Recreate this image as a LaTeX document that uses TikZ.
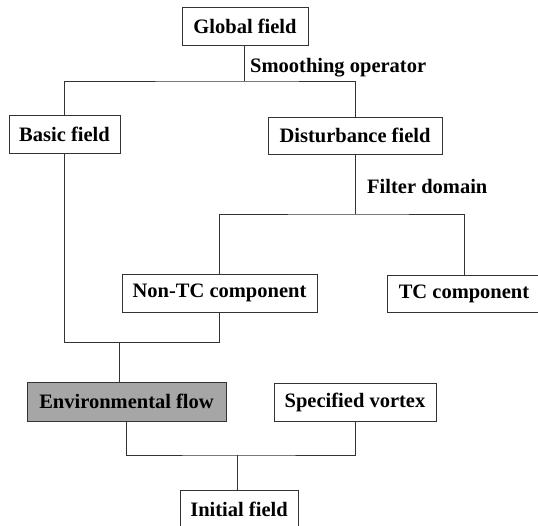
\documentclass[tikz,border=0pt]{standalone}
\usepackage{fontspec}
\setmainfont{Liberation Serif}
\begin{document}
\begin{tikzpicture}[x=1pt,y=-1pt,
  box/.style={draw=black!80,line width=0.9pt,inner sep=0pt,font=\fontsize{20.5}{24}\selectfont\bfseries,minimum height=38pt},
  conn/.style={draw=black!80,line width=0.9pt},
  lbl/.style={font=\fontsize{20.5}{24}\selectfont\bfseries,anchor=west,inner sep=0pt}]
\useasboundingbox (0,0) rectangle (538,526);
\node[box,minimum width=126pt] (g) at (245,26) {Global field};
\node[box,minimum width=111pt] (b) at (64.5,134) {Basic field};
\node[box,minimum width=174pt,minimum height=37pt] (d) at (355,135.5) {Disturbance field};
\node[box,minimum width=195pt] (n) at (219.5,293) {Non-TC component};
\node[box,minimum width=154pt,minimum height=37pt] (tc) at (464,293.5) {TC component};
\node[box,minimum width=199pt,minimum height=39pt,fill=black!35] (e) at (126.5,401.5) {Environmental flow};
\node[box,minimum width=162pt] (s) at (355,402) {Specified vortex};
\node[box,minimum width=118pt] (i) at (239,509) {Initial field};
\coordinate (j1) at (244,81);
\coordinate (j2) at (355,214);
\coordinate (j3) at (119,342);
\coordinate (j4) at (237,455);
\node[lbl] (l1) at (250,68) {Smoothing operator};
\node[lbl] (l2) at (367,186) {Filter domain};
\draw[conn] (g.south -| j1) -- (j1);
\draw[conn] (b.north) |- (j1) -| (d.north);
\draw[conn] (d.south) -- (j2);
\draw[conn] (n.north) |- (j2) -| (tc.north);
\draw[conn] (b.south) |- (n.south |- j3) -- (n.south);
\draw[conn] (j3) -- (j3 |- e.north);
\draw[conn] (e.south) |- (j4) -| (s.south);
\draw[conn] (j4) -- (j4 |- i.north);
\end{tikzpicture}
\end{document}
